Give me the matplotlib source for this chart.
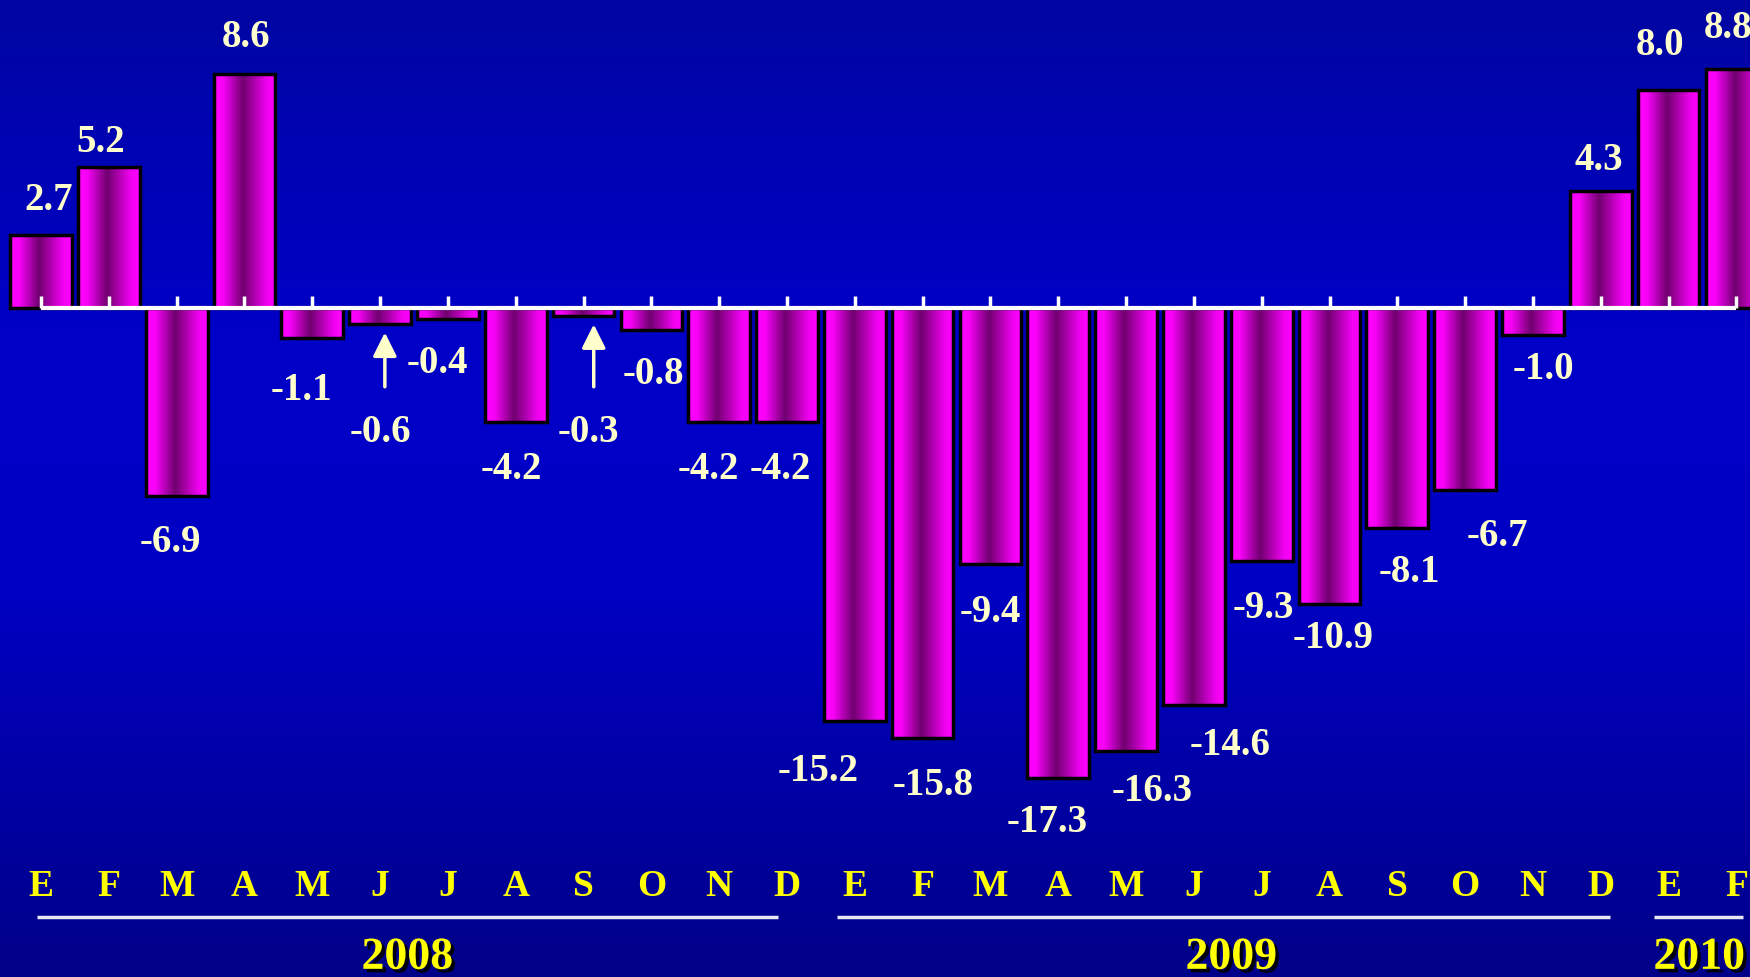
#%%

import matplotlib
matplotlib.use('Agg')
import matplotlib.pyplot as plt
import matplotlib.patheffects as pe
import numpy as np
from matplotlib.colors import LinearSegmentedColormap


#%% data

months = ['E', 'F', 'M', 'A', 'M', 'J', 'J', 'A', 'S', 'O', 'N', 'D',
          'E', 'F', 'M', 'A', 'M', 'J', 'J', 'A', 'S', 'O', 'N', 'D',
          'E', 'F']
values = [2.7, 5.2, -6.9, 8.6, -1.1, -0.6, -0.4, -4.2, -0.3, -0.8, -4.2, -4.2,
          -15.2, -15.8, -9.4, -17.3, -16.3, -14.6, -9.3, -10.9, -8.1, -6.7, -1.0, 4.3,
          8.0, 8.8]
years = ['2008', '2009', '2010']

# hand placed labels in the original: nudges from the bar end (x in bar units, y in value units)
label_dx = [0.12, -0.12, -0.10, 0.02, -0.16, 0.0, -0.16, -0.07, 0.07, 0.03, -0.16, -0.10,
            -0.54, 0.16, 0.0, -0.16, 0.38, 0.54, 0.02, 0.05, 0.18, 0.48, 0.15, -0.03,
            -0.13, -0.13]
label_dy = [1.45, 1.07, -1.52, 1.53, -1.73, -3.79, -1.45, -1.55, -4.09, -1.46, -1.55, -1.55,
            -1.63, -1.56, -1.60, -1.41, -1.30, -1.28, -1.54, -1.04, -1.42, -1.51, -1.06, 1.32,
            1.84, 1.66]
arrow_bars = [5, 8]
arrow_dx = [0.07, 0.15]

year_line_from = [-0.06, 11.74, 23.78]
year_line_to = [10.87, 23.13, 25.1]
year_label_x = [5.4, 17.55, 24.45]

#%% styles

serif = ['Liberation Serif', 'DejaVu Serif']
cream = '#ffffcc'
bg_cmap = LinearSegmentedColormap.from_list(
    'bg', [(0, '#0006a2'), (0.35, '#0000c8'), (0.6, '#0000c4'), (1, '#000088')])
bar_cmap = LinearSegmentedColormap.from_list(
    'bar', [(0, '#ff00ff'), (0.15, '#f800f8'), (0.47, '#700070'), (0.85, '#f000f0'), (1, '#ff00ff')])

#%% plot

fig = plt.figure(figsize=(17.5, 9.78), dpi=100)
ax = fig.add_axes([0, 0, 1, 1])
ax.axis('off')

x = np.arange(len(values))

# background gradient
ax.imshow(np.linspace(0, 1, 256).reshape(-1, 1), cmap=bg_cmap, aspect='auto',
          extent=[0, 1, 0, 1], transform=ax.transAxes, zorder=0)

bars = ax.bar(x, values, width=0.91, facecolor='none', edgecolor='black', lw=2.5, zorder=3)
hgrad = np.linspace(0, 1, 256).reshape(1, -1)
for rect in bars:
    x0, y0 = rect.get_x(), rect.get_y()
    w, h = rect.get_width(), rect.get_height()
    im = ax.imshow(hgrad, cmap=bar_cmap, aspect='auto', interpolation='bilinear',
                   extent=[x0, x0 + w, min(y0, y0 + h), max(y0, y0 + h)], zorder=2)
    im.set_clip_path(rect)

# axis line and ticks
ax.hlines(0, x[0], x[-1], color='white', lw=3, zorder=5)
ax.vlines(x, 0, 0.45, color='white', lw=2.5, zorder=5)

# value labels
for i, v in enumerate(values):
    ax.text(x[i] + label_dx[i], v + label_dy[i] - 0.51, f'{v:.1f}', ha='center', va='baseline',
            color=cream, fontsize=28, fontweight='bold', family=serif, zorder=6)

# arrows under the small bars
for i, dx in zip(arrow_bars, arrow_dx):
    ax.annotate('', xy=(x[i] + dx, values[i] - 0.2), xytext=(x[i] + dx, -3.0),
                arrowprops=dict(arrowstyle='-|>', color=cream, lw=2.5, mutation_scale=36),
                zorder=6)

# month letters
for i, m in enumerate(months):
    ax.text(x[i], -21.6, m, ha='center', va='baseline', color='#ffff00',
            fontsize=27, fontweight='bold', family=serif)

# year lines and labels
for yr, a, b, xc in zip(years, year_line_from, year_line_to, year_label_x):
    ax.plot([a, b], [-22.39, -22.39], color='#e8e8f4', lw=2.5, solid_capstyle='butt')
    ax.text(xc, -24.3, yr, ha='center', va='baseline', color='#ffff00',
            fontsize=33, fontweight='bold', family=serif,
            path_effects=[pe.withSimplePatchShadow(offset=(2.5, -2.5), shadow_rgbFace='black', alpha=0.9)])

ax.set_xlim(-0.605, 25.2)
ax.set_ylim(-24.6, 11.36)

fig.savefig('out.png', dpi=100)
